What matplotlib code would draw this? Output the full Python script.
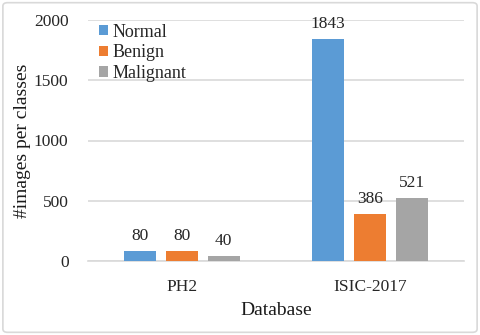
import numpy as np
import matplotlib.pyplot as plt
from matplotlib.patches import FancyBboxPatch

databases = ['PH2', 'ISIC-2017']
classes = ['Normal', 'Benign', 'Malignant']
normal = [80, 1843]
benign = [80, 386]
malignant = [40, 521]
colors = ['#5B9BD5', '#ED7D31', '#A5A5A5']

plt.rcParams['font.family'] = ['Liberation Serif', 'DejaVu Serif']

fig = plt.figure(figsize=(4.8, 3.35), dpi=100)
ax = fig.add_axes([88 / 480, 1 - 261 / 335, 376 / 480, 241 / 335])

# cornice grigia arrotondata attorno alla figura
border = FancyBboxPatch((0.006, 0.008), 0.988, 0.984, boxstyle='round,pad=0,rounding_size=0.01',
                        transform=fig.transFigure, fill=False, edgecolor='#D9D9D9', linewidth=1.2)
fig.patches.append(border)

x = np.arange(len(databases))
width = 0.17
offset = 0.222
for i, (vals, name) in enumerate(zip([normal, benign, malignant], classes)):
    pos = x + (i - 1) * offset
    bars = ax.bar(pos, vals, width, color=colors[i], label=name, zorder=3)
    for b, v in zip(bars, vals):
        ax.text(b.get_x() + b.get_width() / 2, v + 60, str(v), ha='center', va='bottom',
                fontsize=12.5, color='#262626')

ax.set_xlim(-0.5, 1.5)
ax.set_ylim(0, 2000)
ax.set_yticks([0, 500, 1000, 1500, 2000])
ax.set_xticks(x)
ax.set_xticklabels(databases)
ax.tick_params(axis='both', length=0, labelsize=12.5, colors='#262626')
ax.tick_params(axis='x', pad=13)
ax.tick_params(axis='y', pad=14)
ax.grid(axis='y', color='#D9D9D9', linewidth=1.2, zorder=0)
for s in ['top', 'right', 'left']:
    ax.spines[s].set_visible(False)
ax.spines['bottom'].set_color('#D9D9D9')
ax.spines['bottom'].set_linewidth(1.2)

ax.set_xlabel('Database', fontsize=14, color='#1a1a1a', labelpad=5)
ax.set_ylabel('#images per classes', fontsize=14, color='#1a1a1a', labelpad=2)

ax.legend(loc='upper left', bbox_to_anchor=(0.0, 1.03), frameon=False, fontsize=13,
          handlelength=0.5, handleheight=0.5, handletextpad=0.25, labelspacing=0.2,
          borderaxespad=0.2, labelcolor='#262626')

plt.savefig('out.png', dpi=100)
